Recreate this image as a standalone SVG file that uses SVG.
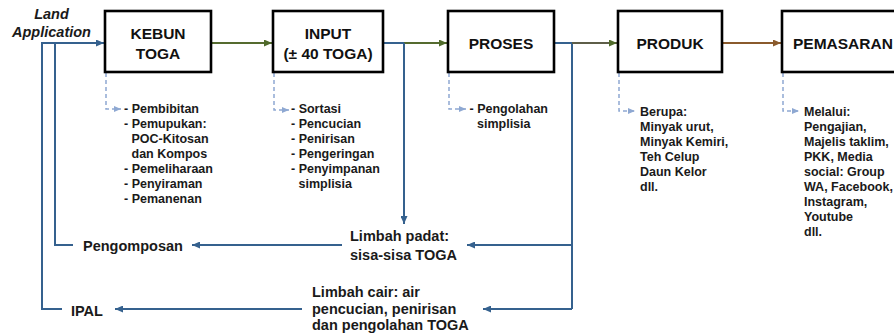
<svg xmlns="http://www.w3.org/2000/svg" width="894" height="336" viewBox="0 0 894 336">
<style>
.box{fill:#fff;stroke:#000;stroke-width:2.6}
.bl{font-family:"Liberation Sans",Arial,sans-serif;font-weight:bold;font-size:15.5px;fill:#111}
.ls{font-family:"Liberation Sans",Arial,sans-serif;font-weight:bold;font-size:12.5px;fill:#1a1a1a}
.lg{font-family:"Liberation Sans",Arial,sans-serif;font-weight:bold;font-size:14.5px;fill:#1a1a1a}
.it{font-style:italic}
.blue{fill:none;stroke:#35618e;stroke-width:2}
.green{fill:none;stroke:#556b2f;stroke-width:2}
.gray{fill:none;stroke:#5e5e48;stroke-width:2}
.brown{fill:none;stroke:#8a5a2c;stroke-width:2}
.dash{fill:none;stroke:#8ea8d2;stroke-width:1.5;stroke-dasharray:4 3}
</style>
<defs>
<marker id="ab" markerUnits="userSpaceOnUse" markerWidth="8" markerHeight="7" refX="8" refY="3.5" orient="auto"><path d="M0,0 L8,3.5 L0,7 z" fill="#35618e"/></marker>
<marker id="ag" markerUnits="userSpaceOnUse" markerWidth="8" markerHeight="7" refX="8" refY="3.5" orient="auto"><path d="M0,0 L8,3.5 L0,7 z" fill="#4f6a2a"/></marker>
<marker id="ar" markerUnits="userSpaceOnUse" markerWidth="8" markerHeight="7" refX="8" refY="3.5" orient="auto"><path d="M0,0 L8,3.5 L0,7 z" fill="#8a5a2c"/></marker>
<marker id="al" markerUnits="userSpaceOnUse" markerWidth="7" markerHeight="6" refX="7" refY="3" orient="auto"><path d="M0,0 L7,3 L0,6 z" fill="#8ea8d2"/></marker>
</defs>
<rect width="894" height="336" fill="#fff"/>
<g id="connectors">
<path class="blue" d="M62,309 H42 V43 H104" marker-end="url(#ab)"/>
<path class="blue" d="M73,245 H55 V43"/>
<path class="green" d="M211,43 H272" marker-end="url(#ag)"/>
<path class="blue" d="M383,43 H404"/>
<path class="green" d="M404,43 H447" marker-end="url(#ag)"/>
<path class="blue" d="M404,43 V224" marker-end="url(#ab)"/>
<path class="blue" d="M554,43 H572 V309"/>
<path class="gray" d="M572,43 H617" marker-end="url(#ag)"/>
<path class="brown" d="M722,43 H781" marker-end="url(#ar)"/>
<path class="blue" d="M572,245 H467" marker-end="url(#ab)"/>
<path class="blue" d="M572,309 H483" marker-end="url(#ab)"/>
<path class="blue" d="M342,245 H192" marker-end="url(#ab)"/>
<path class="blue" d="M302,309 H115" marker-end="url(#ab)"/>
<path class="dash" d="M106,73 V109 H121" marker-end="url(#al)"/>
<path class="dash" d="M274,73 V110 H289" marker-end="url(#al)"/>
<path class="dash" d="M449,73 V109 H466" marker-end="url(#al)"/>
<path class="dash" d="M619,73 V111 H635" marker-end="url(#al)"/>
<path class="dash" d="M783,73 V111 H799" marker-end="url(#al)"/>
</g>
<g id="land-application">
<text class="lg it" x="51.5" y="19" text-anchor="middle">Land</text>
<text class="lg it" x="51.5" y="37" text-anchor="middle">Application</text>
</g>
<g id="kebun-toga">
<rect class="box" x="105" y="11" width="106" height="61"/>
<text class="bl" x="158" y="39" text-anchor="middle">KEBUN</text>
<text class="bl" x="158" y="59" text-anchor="middle">TOGA</text>
</g>
<g id="input">
<rect class="box" x="273" y="11" width="110" height="61"/>
<text class="bl" x="328" y="39" text-anchor="middle">INPUT</text>
<text class="bl" x="328" y="59" text-anchor="middle">(± 40 TOGA)</text>
</g>
<g id="proses">
<rect class="box" x="448" y="11" width="106" height="61"/>
<text class="bl" x="501" y="49" text-anchor="middle">PROSES</text>
</g>
<g id="produk">
<rect class="box" x="618" y="11" width="104" height="61"/>
<text class="bl" x="670" y="49" text-anchor="middle">PRODUK</text>
</g>
<g id="pemasaran">
<rect class="box" x="782" y="11" width="130" height="61"/>
<text class="bl" x="793" y="49">PEMASARAN</text>
</g>
<g id="kebun-list" class="ls">
<text x="124" y="113">- Pembibitan</text>
<text x="124" y="128">- Pemupukan:</text>
<text x="131.5" y="143">POC-Kitosan</text>
<text x="131.5" y="158">dan Kompos</text>
<text x="124" y="173">- Pemeliharaan</text>
<text x="124" y="188">- Penyiraman</text>
<text x="124" y="203">- Pemanenan</text>
</g>
<g id="input-list" class="ls">
<text x="291" y="113">- Sortasi</text>
<text x="291" y="128">- Pencucian</text>
<text x="291" y="143">- Penirisan</text>
<text x="291" y="158">- Pengeringan</text>
<text x="291" y="173">- Penyimpanan</text>
<text x="298.5" y="188">simplisia</text>
</g>
<g id="proses-list" class="ls">
<text x="469.5" y="113">- Pengolahan</text>
<text x="477" y="128">simplisia</text>
</g>
<g id="produk-list" class="ls">
<text x="640" y="116">Berupa:</text>
<text x="640" y="131">Minyak urut,</text>
<text x="640" y="146">Minyak Kemiri,</text>
<text x="640" y="161">Teh Celup</text>
<text x="640" y="176">Daun Kelor</text>
<text x="640" y="191">dll.</text>
</g>
<g id="pemasaran-list" class="ls">
<text x="804" y="116">Melalui:</text>
<text x="804" y="131">Pengajian,</text>
<text x="804" y="146">Majelis taklim,</text>
<text x="804" y="161">PKK, Media</text>
<text x="804" y="176">social: Group</text>
<text x="804" y="191">WA, Facebook,</text>
<text x="804" y="206">Instagram,</text>
<text x="804" y="221">Youtube</text>
<text x="804" y="236">dll.</text>
</g>
<g id="limbah-padat" class="lg">
<text x="350" y="241">Limbah padat:</text>
<text x="350" y="260">sisa-sisa TOGA</text>
</g>
<g id="limbah-cair" class="lg">
<text x="312" y="297">Limbah cair: air</text>
<text x="312" y="314">pencucian, penirisan</text>
<text x="312" y="330">dan pengolahan TOGA</text>
</g>
<g id="pengomposan">
<text class="lg" x="83" y="251">Pengomposan</text>
</g>
<g id="ipal">
<text class="lg" x="71" y="316">IPAL</text>
</g>
</svg>
